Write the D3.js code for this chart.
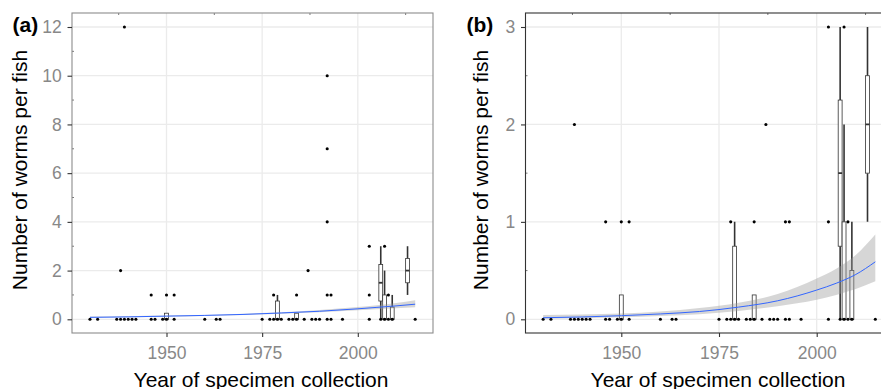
<!DOCTYPE html>
<html lang="en">
<head>
<meta charset="UTF-8">
<script src="https://d3js.org/d3.v7.min.js"></script>
<style>
  body { margin: 0; background: #fff; }
  svg { display: block; font-family: "Liberation Sans", Arial, sans-serif; }
</style>
</head>
<body>
<svg id="chart"></svg>
<script>
const W = 881, H = 389;

// fish with zero worms, one per year
const zeroYears = [1930, 1932, 1937, 1938, 1939, 1940, 1941, 1942, 1946, 1947, 1949, 1950, 1952,
  1960, 1963, 1964, 1975, 1977, 1978, 1979, 1980, 1982, 1983, 1984, 1986, 1988, 1989, 1990,
  1992, 1993, 1996, 2003, 2006, 2007, 2008, 2009, 2015];
// fish with worms
const wormYears  = [1938, 1939, 1946, 1950, 1952, 1978, 1984, 1987, 1992, 1992, 1992, 1992, 1993, 2003, 2003, 2007, 2008];
const wormCounts = [2, 12, 1, 1, 1, 1, 1, 2, 10, 7, 4, 1, 1, 3, 1, 3, 1];

// per-year boxplots
const boxYear = [1950, 1979, 1984, 2006, 2007, 2009, 2013];
const boxLow  = [0, 0, 0, 0, 0, 0, 1];
const boxQ1   = [0, 0, 0, 0.75, 0, 0, 1.5];
const boxMed  = [0, 0, 0, 1.5, 0, 0, 2];
const boxQ3   = [0.25, 0.75, 0.25, 2.25, 1, 0.5, 2.5];
const boxHigh = [0.25, 1, 0.25, 3, 2, 1, 3];

// fitted trend with confidence band
const fitYear  = [1930, 1940, 1950, 1960, 1970, 1980, 1990, 2000, 2005, 2010, 2015];
const fitA     = [0.08, 0.10, 0.13, 0.16, 0.20, 0.26, 0.33, 0.43, 0.49, 0.55, 0.62];
const fitALow  = [0.06, 0.08, 0.11, 0.14, 0.18, 0.23, 0.29, 0.37, 0.41, 0.45, 0.49];
const fitAHigh = [0.11, 0.13, 0.16, 0.18, 0.23, 0.29, 0.38, 0.50, 0.58, 0.67, 0.78];
const fitB     = [0.016, 0.024, 0.037, 0.055, 0.080, 0.125, 0.19, 0.30, 0.37, 0.46, 0.59];
const fitBLow  = [0.005, 0.010, 0.020, 0.033, 0.052, 0.085, 0.135, 0.20, 0.25, 0.31, 0.39];
const fitBHigh = [0.045, 0.050, 0.060, 0.080, 0.115, 0.17, 0.26, 0.42, 0.52, 0.66, 0.87];

const xTicks = [1950, 1975, 2000];
const xMinor = [1937.5, 1962.5, 1987.5, 2012.5];
const yTicksA = [0, 2, 4, 6, 8, 10, 12];
const yMinorA = [1, 3, 5, 7, 9, 11];
const yTicksB = [0, 1, 2, 3];
const yMinorB = [0.5, 1.5, 2.5];

const points = zeroYears.map(y => ({year: y, n: 0}))
  .concat(wormYears.map((y, i) => ({year: y, n: wormCounts[i]})));
const boxes = boxYear.map((y, i) => ({year: y, lo: boxLow[i], q1: boxQ1[i], med: boxMed[i], q3: boxQ3[i], hi: boxHigh[i]}));

const svg = d3.select("#chart").attr("width", W).attr("height", H);

function panel(o) {
  const x = d3.scaleLinear().domain([1950, 2000]).range(o.xr);
  const y = d3.scaleLinear().domain([0, o.ymax]).range([319.3, 27]);
  const g = svg.append("g");
  const px0 = o.box[0], px1 = o.box[1], py0 = 13, py1 = 333;
  const id = "clip" + o.tag;
  svg.append("clipPath").attr("id", id).append("rect")
    .attr("x", px0).attr("y", py0).attr("width", px1 - px0).attr("height", py1 - py0);

  g.append("rect").attr("x", px0).attr("y", py0).attr("width", px1 - px0).attr("height", py1 - py0).attr("fill", "#fff");

  const inner = g.append("g").attr("clip-path", `url(#${id})`);
  // major grid
  inner.selectAll(".gx").data(xTicks).join("line")
    .attr("x1", d => x(d)).attr("x2", d => x(d)).attr("y1", py0).attr("y2", py1)
    .attr("stroke", "#ebebeb").attr("stroke-width", 1.3);
  inner.selectAll(".gy").data(o.yTicks).join("line")
    .attr("x1", px0).attr("x2", px1).attr("y1", d => y(d)).attr("y2", d => y(d))
    .attr("stroke", "#ebebeb").attr("stroke-width", 1.3);
  // minor grid ends, visible only as small nicks at the border
  inner.selectAll(".mx").data(xMinor).join("line")
    .attr("x1", d => x(d)).attr("x2", d => x(d)).attr("y1", py0).attr("y2", py0 + 2)
    .attr("stroke", "#555").attr("stroke-width", 0.8);
  inner.selectAll(".my").data(o.yMinor).join("line")
    .attr("x1", px0).attr("x2", px0 + 2).attr("y1", d => y(d)).attr("y2", d => y(d))
    .attr("stroke", "#555").attr("stroke-width", 0.8);

  // boxplots
  const hw = 0.5;
  const bg = inner.append("g");
  boxes.forEach(b => {
    if (b.hi > b.q3) bg.append("line").attr("x1", x(b.year)).attr("x2", x(b.year))
      .attr("y1", y(b.q3)).attr("y2", y(b.hi)).attr("stroke", "#333").attr("stroke-width", 1.6);
    if (b.lo < b.q1) bg.append("line").attr("x1", x(b.year)).attr("x2", x(b.year))
      .attr("y1", y(b.q1)).attr("y2", y(b.lo)).attr("stroke", "#333").attr("stroke-width", 1.6);
    bg.append("rect").attr("x", x(b.year - hw)).attr("width", x(b.year + hw) - x(b.year - hw))
      .attr("y", y(b.q3)).attr("height", y(b.q1) - y(b.q3))
      .attr("fill", "#fff").attr("stroke", "#333").attr("stroke-width", 0.8);
    bg.append("line").attr("x1", x(b.year - hw)).attr("x2", x(b.year + hw))
      .attr("y1", y(b.med)).attr("y2", y(b.med)).attr("stroke", "#333").attr("stroke-width", 1.8);
  });

  // confidence band and fit
  const fit = fitYear.map((yr, i) => ({yr, v: o.fit[i], lo: o.low[i], hi: o.high[i]}));
  inner.append("path").datum(fit)
    .attr("d", d3.area().curve(d3.curveMonotoneX).x(d => x(d.yr)).y0(d => y(d.lo)).y1(d => y(d.hi)))
    .attr("fill", "#999").attr("fill-opacity", 0.4);

  // observations
  inner.selectAll(".pt").data(points.filter(p => p.n <= o.ymax)).join("circle")
    .attr("cx", d => x(d.year)).attr("cy", d => y(d.n)).attr("r", 1.55).attr("fill", "#000");

  inner.append("path").datum(fit)
    .attr("d", d3.line().curve(d3.curveMonotoneX).x(d => x(d.yr)).y(d => y(d.v)))
    .attr("fill", "none").attr("stroke", "#3366ff").attr("stroke-width", 1);

  // border
  g.append("rect").attr("x", px0).attr("y", py0).attr("width", px1 - px0).attr("height", py1 - py0)
    .attr("fill", "none").attr("stroke", o.border).attr("stroke-width", 1.1);

  // axes
  const ax = g.append("g").attr("transform", `translate(0,${py1})`)
    .call(d3.axisBottom(x).tickValues(xTicks).tickFormat(d3.format("d")).tickSize(4).tickSizeOuter(0).tickPadding(9.5));
  const ay = g.append("g").attr("transform", `translate(${px0},0)`)
    .call(d3.axisLeft(y).tickValues(o.yTicks).tickFormat(d3.format("d")).tickSize(4.5).tickSizeOuter(0).tickPadding(5.8));
  [ax, ay].forEach(a => {
    a.select(".domain").remove();
    a.selectAll("line").attr("stroke", "#333").attr("stroke-width", 1.1);
    a.selectAll("text").attr("fill", "#888").attr("font-size", 17.5).attr("font-family", "Liberation Sans, Arial, sans-serif");
  });

  // titles
  g.append("text").attr("x", o.xTitle).attr("y", 386.5).attr("text-anchor", "middle")
    .attr("font-size", 21).attr("fill", "#000").text("Year of specimen collection");
  g.append("text").attr("transform", `translate(${o.yTitle},170) rotate(-90)`).attr("text-anchor", "middle")
    .attr("font-size", 21).attr("fill", "#000").text("Number of worms per fish");
  g.append("text").attr("x", o.labelX).attr("y", 32).attr("font-size", 21).attr("font-weight", "bold")
    .attr("fill", "#000").text(o.label);
}

panel({tag: "a", xr: [166.5, 357.8], box: [72, 433], ymax: 12, yTicks: yTicksA, yMinor: yMinorA,
  fit: fitA, low: fitALow, high: fitAHigh, border: "#8c8c8c",
  xTitle: 261, yTitle: 26.7, label: "(a)", labelX: 12.5});
panel({tag: "b", xr: [621.3, 816.7], box: [525.5, 895], ymax: 3, yTicks: yTicksB, yMinor: yMinorB,
  fit: fitB, low: fitBLow, high: fitBHigh, border: "#333",
  xTitle: 718, yTitle: 488, label: "(b)", labelX: 466.5});
</script>
</body>
</html>
